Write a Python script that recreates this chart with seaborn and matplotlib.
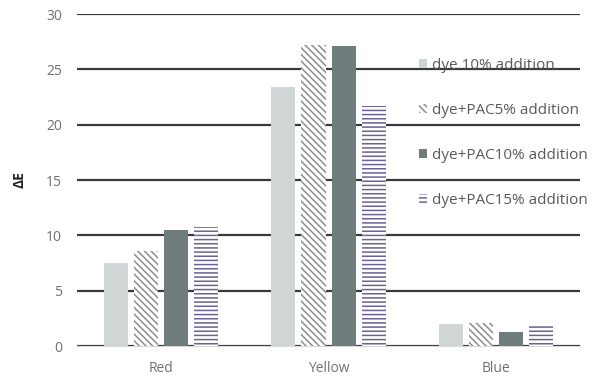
import pandas as pd
import seaborn as sns
import matplotlib.pyplot as plt
from matplotlib.patches import Patch

# Данные
colours = ['Red', 'Yellow', 'Blue']
series = ['dye 10% addition', 'dye+PAC5% addition',
          'dye+PAC10% addition', 'dye+PAC15% addition']
dye10 = [7.5, 23.4, 2.0]
pac5 = [8.6, 27.2, 2.1]
pac10 = [10.5, 27.1, 1.3]
pac15 = [10.8, 21.7, 1.8]

df = pd.DataFrame({
    'colour': colours * 4,
    'series': [s for s in series for _ in colours],
    'dE': dye10 + pac5 + pac10 + pac15,
})

sns.set_style('white')
plt.rcParams['font.family'] = ['Open Sans', 'DejaVu Sans']
plt.rcParams['hatch.linewidth'] = 1.1

fig, ax = plt.subplots(figsize=(5.93, 3.91), dpi=100)
fig.subplots_adjust(left=0.13, right=0.978, top=0.964, bottom=0.115)

sns.barplot(data=df, x='colour', y='dE', hue='series', ax=ax,
            width=0.72, gap=0.2, legend=False, zorder=3)

styles = [
    dict(facecolor='#d0d5d5', edgecolor='#d0d5d5', hatch=None),
    dict(facecolor='white', edgecolor='#8a8e8e', hatch='\\\\\\\\\\'),
    dict(facecolor='#6f7c7c', edgecolor='#6f7c7c', hatch=None),
    dict(facecolor='white', edgecolor='#6a6393', hatch='----'),
]
for cont, st in zip(ax.containers, styles):
    for bar in cont:
        bar.set_facecolor(st['facecolor'])
        bar.set_edgecolor(st['edgecolor'])
        bar.set_linewidth(0)
        if st['hatch']:
            bar.set_hatch(st['hatch'])

ax.set_ylim(0, 30)
ax.set_yticks(range(0, 31, 5))
ax.yaxis.grid(True, color='#3a3a3a', linewidth=1.6, zorder=0)
ax.set_axisbelow(True)
for side in ['top', 'right', 'left']:
    ax.spines[side].set_visible(False)
ax.spines['bottom'].set_color('#d9d9d9')
ax.tick_params(axis='both', length=0, colors='#707070', labelsize=10)
ax.tick_params(axis='x', pad=11)
ax.tick_params(axis='y', pad=11)
ax.set_xlabel('')
ax.set_ylabel('ΔE', fontsize=10, fontweight='bold', color='#222222', labelpad=14)

handles = [Patch(facecolor=st['facecolor'], edgecolor=st['edgecolor'],
                 hatch=st['hatch'], linewidth=0, label=s)
           for st, s in zip(styles, series)]
leg = ax.legend(handles=handles, loc='upper left', bbox_to_anchor=(0.652, 0.91),
                frameon=False, handlelength=0.55, handleheight=0.55,
                handletextpad=0.35, labelspacing=1.98, fontsize=11)
for t in leg.get_texts():
    t.set_color('#595959')

plt.savefig('out.png', dpi=100)
